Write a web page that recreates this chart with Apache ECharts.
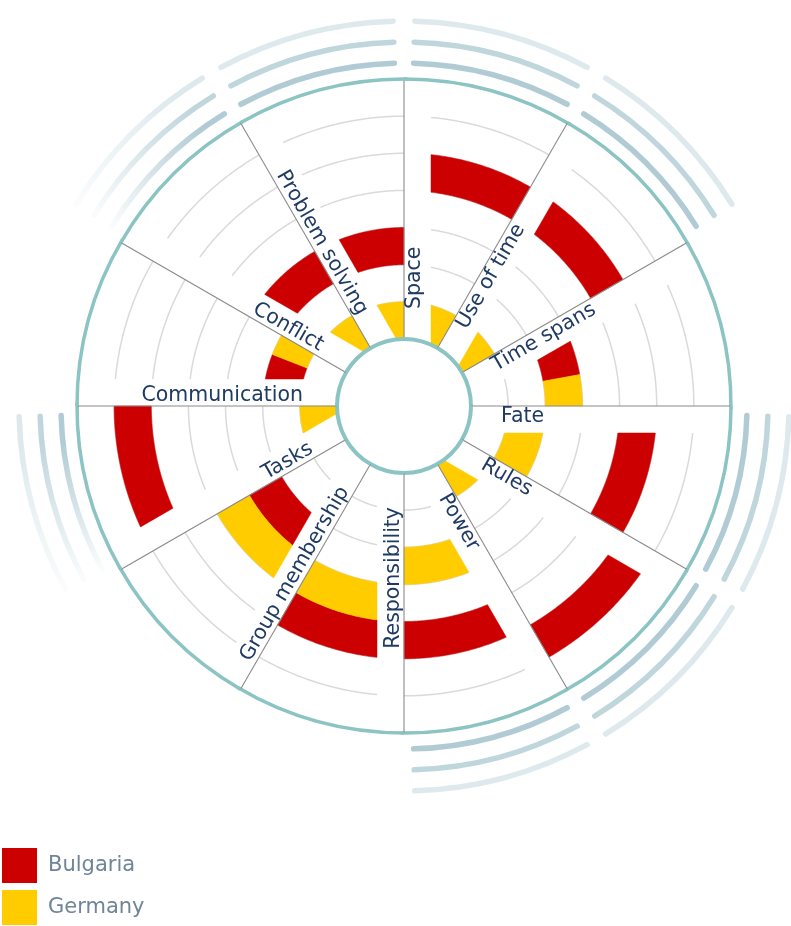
<!DOCTYPE html>
<html>
<head>
<meta charset="utf-8">
<script src="https://cdn.jsdelivr.net/npm/echarts@6/dist/echarts.min.js"></script>
<style>
html,body{margin:0;padding:0;background:#ffffff;}
#chart{width:791px;height:926px;}
</style>
</head>
<body>
<div id="chart"></div>
<script>
// ---- data (scale levels 1..7, read from the rings) ----
const categories = ['Space', 'Use of time', 'Time spans', 'Fate', 'Rules', 'Power',
  'Responsibility', 'Group membership', 'Tasks', 'Communication', 'Conflict', 'Problem solving'];
const bulgaria = [5, 5, 3, 5, 6, 5, 5, 3, 6, 2, 3, 3];
const germany  = [1, 1, 3, 2, 1, 3, 4, 4, 1, 2, 1, 1];
const scaleLevels = 7;
const highlighted = ['Space', 'Use of time', 'Fate', 'Rules', 'Power', 'Tasks', 'Conflict', 'Problem solving'];
const fadedStart = ['Conflict', 'Tasks'];   // decorative arcs fading out at the sector start

// ---- styles ----
const RED = '#cc0000';
const YELLOW = '#ffcc00';
const TEAL = '#8cc3c3';
const LABEL_COLOR = '#1f3b63';
const FONT = 'DejaVu Sans, Verdana, sans-serif';
const STRIP = 27;          // label strip width along each sector's start line
const D2R = Math.PI / 180;

function geom(params, api, i) {
  const cs = params.coordSys;
  const step = Math.abs(api.coord([0, 0])[3] - api.coord([0, 1])[3]);
  const tc = Math.PI / 2 - api.coord([0, i])[3];           // compass angle of sector centre
  let ts = tc - step / 2;
  ts = ((ts % (2 * Math.PI)) + 2 * Math.PI) % (2 * Math.PI);
  return {
    cx: cs.cx, cy: cs.cy, ts: ts, te: ts + step,
    r: function (v) { return api.coord([v, i])[2]; }
  };
}
function pt(g, r, t) { return [g.cx + r * Math.sin(t), g.cy - r * Math.cos(t)]; }
function stripStart(g, r) { return g.ts + Math.asin(Math.min(1, STRIP / r)); }

function ringPoly(g, rA, rB, t0, t1) {
  const pts = [], n = 48;
  const sB = t0(rB), sA = t0(rA);
  for (let k = 0; k <= n; k++) pts.push(pt(g, rB, sB + (t1 - sB) * k / n));
  for (let k = n; k >= 0; k--) pts.push(pt(g, rA, sA + (t1 - sA) * k / n));
  return pts;
}

function barRenderer(color, first) {
  return function (params, api) {
    const v = api.value(0), i = api.value(1), other = api.value(2);
    const g = geom(params, api, i);
    const rA = g.r(v - 1), rB = g.r(v);
    let t0 = function (r) { return stripStart(g, r); };
    let t1 = g.te;
    if (v === other) {
      const rm = (rA + rB) / 2;
      const tm = (stripStart(g, rm) + g.te) / 2;
      if (first) t1 = tm; else t0 = function () { return tm; };
    }
    return {
      type: 'polygon',
      shape: { points: ringPoly(g, rA, rB, t0, t1) },
      style: { fill: color, stroke: color, lineWidth: 0.5 }
    };
  };
}

function gridRenderer(params, api) {
  const i = api.value(1);
  const g = geom(params, api, i);
  const children = [];
  for (let v = 1; v < scaleLevels; v++) {
    const r = g.r(v);
    const s = stripStart(g, r), pts = [];
    for (let k = 0; k <= 40; k++) pts.push(pt(g, r, s + (g.te - s) * k / 40));
    children.push({ type: 'polyline', shape: { points: pts },
      style: { stroke: '#dadada', lineWidth: 1.5, fill: null } });
  }
  return { type: 'group', children: children };
}

function frameRenderer(params, api) {
  const i = api.value(1);
  const g = geom(params, api, i);
  const r0 = g.r(0), R = g.r(scaleLevels);
  const children = [];
  // sector line
  const a = pt(g, r0, g.ts), b = pt(g, R, g.ts);
  children.push({ type: 'line', shape: { x1: a[0], y1: a[1], x2: b[0], y2: b[1] },
    style: { stroke: '#8a8a8a', lineWidth: 1.1 } });
  // decorative outer arcs
  if (highlighted.indexOf(categories[i]) >= 0) {
    const offs = [16, 37, 58];
    const cols = [[150, 186, 198, 0.75], [150, 186, 198, 0.6], [165, 196, 205, 0.38]];
    const fade = fadedStart.indexOf(categories[i]) >= 0;
    offs.forEach(function (o, k) {
      const c = cols[k];
      const full = 'rgba(' + c[0] + ',' + c[1] + ',' + c[2] + ',' + c[3] + ')';
      let stroke = full;
      if (fade) {
        const p0 = pt(g, R + o, g.ts + 2 * D2R), p1 = pt(g, R + o, g.ts + 24 * D2R);
        stroke = { type: 'linear', global: true, x: p0[0], y: p0[1], x2: p1[0], y2: p1[1],
          colorStops: [{ offset: 0, color: 'rgba(' + c[0] + ',' + c[1] + ',' + c[2] + ',0.05)' },
                       { offset: 1, color: full }] };
      }
      children.push({ type: 'arc',
        shape: { cx: g.cx, cy: g.cy, r: R + o,
          startAngle: g.ts + 1.6 * D2R - Math.PI / 2, endAngle: g.te - 1.6 * D2R - Math.PI / 2, clockwise: true },
        style: { stroke: stroke, lineWidth: 5.5, fill: null, lineCap: 'round' } });
    });
  }
  // circles (drawn per sector)
  children.push({ type: 'arc', shape: { cx: g.cx, cy: g.cy, r: r0,
    startAngle: g.ts - Math.PI / 2, endAngle: g.te - Math.PI / 2 + 0.01, clockwise: true },
    style: { stroke: TEAL, lineWidth: 4, fill: null } });
  children.push({ type: 'arc', shape: { cx: g.cx, cy: g.cy, r: R,
    startAngle: g.ts - Math.PI / 2, endAngle: g.te - Math.PI / 2 + 0.01, clockwise: true },
    style: { stroke: TEAL, lineWidth: 3.5, fill: null } });
  // label
  const rightHalf = g.ts < Math.PI - 1e-6;
  const lr = rightHalf ? 97 : 101;
  const p = pt(g, lr, g.ts);
  children.push({ type: 'text', x: p[0], y: p[1],
    rotation: rightHalf ? (Math.PI / 2 - g.ts) : (Math.PI / 2 - g.ts + Math.PI),
    style: { text: categories[i], fill: LABEL_COLOR, fontSize: 20.5, fontFamily: FONT,
      align: rightHalf ? 'left' : 'right', verticalAlign: rightHalf ? 'top' : 'bottom' } });
  return { type: 'group', children: children };
}

const chart = echarts.init(document.getElementById('chart'), null, { renderer: 'canvas' });
chart.setOption({
  animation: false,
  backgroundColor: '#ffffff',
  polar: { center: [404, 406], radius: [67, 327] },
  angleAxis: {
    type: 'category', data: categories, startAngle: 90, clockwise: true,
    axisLine: { show: false }, axisTick: { show: false }, axisLabel: { show: false }, splitLine: { show: false }
  },
  radiusAxis: {
    type: 'value', min: 0, max: scaleLevels,
    axisLine: { show: false }, axisTick: { show: false }, axisLabel: { show: false }, splitLine: { show: false }
  },
  legend: {
    orient: 'vertical', left: 2, top: 848, padding: 0, itemWidth: 35, itemHeight: 35, itemGap: 7,
    icon: 'rect', selectedMode: false,
    textStyle: { fontSize: 21, color: '#6f8599', fontFamily: FONT, padding: [0, 0, 0, 6] },
    data: [{ name: 'Bulgaria', itemStyle: { color: RED } }, { name: 'Germany', itemStyle: { color: YELLOW } }]
  },
  series: [
    { type: 'custom', name: 'grid', coordinateSystem: 'polar', z: 1, silent: true,
      renderItem: gridRenderer, data: categories.map(function (c, i) { return [0, i]; }) },
    { type: 'custom', name: 'Bulgaria', coordinateSystem: 'polar', z: 2,
      itemStyle: { color: RED }, renderItem: barRenderer(RED, true),
      data: bulgaria.map(function (v, i) { return [v, i, germany[i]]; }) },
    { type: 'custom', name: 'Germany', coordinateSystem: 'polar', z: 2,
      itemStyle: { color: YELLOW }, renderItem: barRenderer(YELLOW, false),
      data: germany.map(function (v, i) { return [v, i, bulgaria[i]]; }) },
    { type: 'custom', name: 'frame', coordinateSystem: 'polar', z: 3, silent: true,
      renderItem: frameRenderer, data: categories.map(function (c, i) { return [0, i]; }) }
  ]
});
</script>
</body>
</html>
